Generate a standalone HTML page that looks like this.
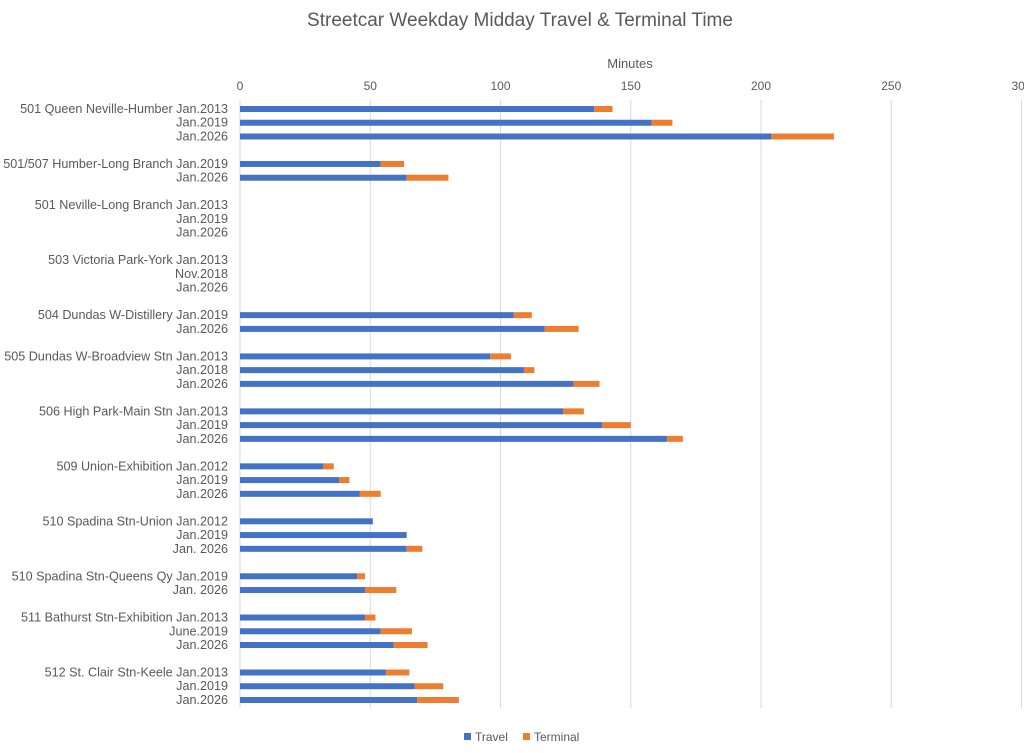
<!DOCTYPE html>
<html><head><meta charset="utf-8">
<style>
body{margin:0;background:#fff;font-family:"Liberation Sans",sans-serif;}
svg text{font-family:"Liberation Sans",sans-serif;fill:#595959;}
</style></head>
<body>
<svg id="chart" width="1024" height="748">
<text x="520" y="26" font-size="19" text-anchor="middle">Streetcar Weekday Midday Travel &amp; Terminal Time</text>
<text x="630" y="68" font-size="13" text-anchor="middle">Minutes</text>
<g id="grid"></g><g id="bars"></g><g id="labels"></g>
<g>
<rect x="464" y="733" width="7" height="7" fill="#4472C4"/>
<text x="475" y="741" font-size="12">Travel</text>
<rect x="523" y="733" width="7" height="7" fill="#ED7D31"/>
<text x="534" y="741" font-size="12">Terminal</text>
</g>
</svg>
<script>
const categories=["501 Queen Neville-Humber Jan.2013","Jan.2019","Jan.2026","",
"501/507 Humber-Long Branch Jan.2019","Jan.2026","",
"501 Neville-Long Branch Jan.2013","Jan.2019","Jan.2026","",
"503 Victoria Park-York Jan.2013","Nov.2018","Jan.2026","",
"504 Dundas W-Distillery Jan.2019","Jan.2026","",
"505 Dundas W-Broadview Stn Jan.2013","Jan.2018","Jan.2026","",
"506 High Park-Main Stn Jan.2013","Jan.2019","Jan.2026","",
"509 Union-Exhibition Jan.2012","Jan.2019","Jan.2026","",
"510 Spadina Stn-Union Jan.2012","Jan.2019","Jan. 2026","",
"510 Spadina Stn-Queens Qy Jan.2019","Jan. 2026","",
"511 Bathurst Stn-Exhibition Jan.2013","June.2019","Jan.2026","",
"512 St. Clair Stn-Keele Jan.2013","Jan.2019","Jan.2026"];
const travel=[136,158,204,0,54,64,0,0,0,0,0,0,0,0,0,105,117,0,96,109,128,0,124,139,164,0,32,38,46,0,51,64,64,0,45,48,0,48,54,59,0,56,67,68];
const terminal=[7,8,24,0,9,16,0,0,0,0,0,0,0,0,0,7,13,0,8,4,10,0,8,11,6,0,4,4,8,0,0,0,6,0,3,12,0,4,12,13,0,9,11,16];
const ticks=[0,50,100,150,200,250,300];
const NS="http://www.w3.org/2000/svg";
const x=v=>240+v*2.605;
const y=i=>109+i*13.744;
function mk(t,a,p){const e=document.createElementNS(NS,t);for(const k in a)e.setAttribute(k,a[k]);p.appendChild(e);return e;}
const grid=document.getElementById('grid'),bars=document.getElementById('bars'),labels=document.getElementById('labels');
ticks.forEach(t=>{
 const l=mk('line',{x1:x(t),x2:x(t),y1:100,y2:708,stroke:'#d9d9d9','stroke-width':1},grid);
 
 
 const tx=mk('text',{x:x(t),y:90,'font-size':12,'text-anchor':'middle'},grid);
 tx.textContent=t;
 
 
});
categories.forEach((c,i)=>{
 if(c){const t=mk('text',{x:228,y:y(i)+4,'font-size':12.6,'text-anchor':'end'},labels);t.textContent=c;
 
 }
 if(travel[i]>0){const r=mk('rect',{x:x(0),y:y(i)-3,width:x(travel[i])-x(0),height:6,fill:'#4472C4'},bars);
 
 }
 if(terminal[i]>0){const r=mk('rect',{x:x(travel[i]),y:y(i)-3,width:x(travel[i]+terminal[i])-x(travel[i]),height:6,fill:'#ED7D31'},bars);
 
 }
});
</script>
</body></html>
